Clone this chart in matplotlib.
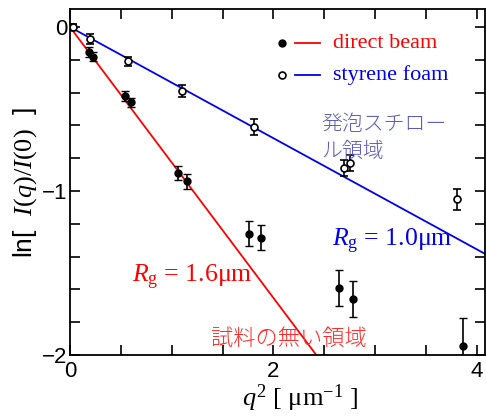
import numpy as np
import matplotlib.pyplot as plt
from matplotlib.ticker import MultipleLocator

plt.rcParams['mathtext.fontset'] = 'custom'
plt.rcParams['mathtext.rm'] = 'Liberation Serif'
plt.rcParams['mathtext.it'] = 'Liberation Serif:italic'

# direct beam (filled)
q2_direct = [0.02, 0.19, 0.23, 0.54, 0.60, 1.06, 1.15, 1.76, 1.88, 2.64, 2.78, 3.86]
ln_direct = [0.0, -0.15, -0.18, -0.42, -0.46, -0.89, -0.94, -1.26, -1.285, -1.59, -1.66, -1.945]
err_direct = [0.02, 0.03, 0.03, 0.03, 0.03, 0.045, 0.045, 0.077, 0.077, 0.11, 0.11, 0.17]

# styrene foam (open)
q2_foam = [0.03, 0.20, 0.57, 1.10, 1.81, 2.69, 2.75, 3.80]
ln_foam = [0.0, -0.075, -0.21, -0.39, -0.61, -0.86, -0.83, -1.05]
err_foam = [0.02, 0.03, 0.03, 0.035, 0.05, 0.05, 0.05, 0.065]

# fitted slopes (-Rg^2/3)
slope_direct = -0.826
slope_foam = -0.339

fig = plt.figure(figsize=(4.86, 4.18), dpi=100)
ax = fig.add_axes([0.144, 0.1507, 0.854, 0.8278])

xfit = np.array([0, 4.08])
ax.plot(xfit, slope_direct * xfit, color='#ff0000', lw=1.3, zorder=2)
ax.plot(xfit, slope_foam * xfit, color='#0000ee', lw=1.3, zorder=2)

ax.errorbar(q2_direct, ln_direct, yerr=err_direct, fmt='o', ms=5, color='black',
            ecolor='black', elinewidth=1.2, capsize=3, zorder=3)
ax.errorbar(q2_foam, ln_foam, yerr=err_foam, fmt='o', ms=5, mfc='white', mec='black',
            mew=1.2, ecolor='black', elinewidth=1.2, capsize=3, zorder=3)

ax.set_xlim(0, 4.08)
ax.set_ylim(-2, 0.11)
ax.xaxis.set_minor_locator(MultipleLocator(0.5))
ax.yaxis.set_minor_locator(MultipleLocator(0.2))
ax.set_xticks([0, 2, 4])
ax.set_xticklabels(['0', '2', '4'], family='Liberation Sans', fontsize=16)
ax.set_yticks([0, -1, -2])
ax.set_yticklabels(['0', '\u22121', '\u22122'], family='Liberation Sans', fontsize=16)
ax.tick_params(which='both', direction='in', top=True, right=True, width=1.2, length=7)
ax.tick_params(axis='y', pad=2)
ax.tick_params(axis='x', pad=4)
for s in ax.spines.values():
    s.set_linewidth(1.3)

ax.set_xlabel(r'$q^2$ [ $\mathrm{\mu m}^{-1}$ ]', fontsize=19, family='Liberation Serif')
ax.xaxis.set_label_coords(0.554, -0.08)
ax.set_ylabel(r'ln[  $I(q)/I(0)$  ]', fontsize=19, family='Liberation Sans', labelpad=2)

# legend
ax.plot([2.08], [-0.1], 'o', ms=5, color='black')
ax.plot([2.08], [-0.29], 'o', ms=5, mfc='white', mec='black', mew=1.2)
ax.plot([2.21, 2.46], [-0.1, -0.1], color='#ff0000', lw=1.3)
ax.plot([2.21, 2.46], [-0.29, -0.29], color='#0000ee', lw=1.3)
ax.text(2.59, -0.1, 'direct beam', color='#ff0000', fontsize=16, family='Liberation Serif', va='center')
ax.text(2.59, -0.29, 'styrene foam', color='#0000ee', fontsize=16, family='Liberation Serif', va='center')

ax.text(2.47, -0.675, '発泡スチロー\nル領域', color='#5a5ac0', fontsize=15, fontweight='light',
        family=['Noto Sans CJK JP', 'DejaVu Sans'], va='center', linespacing=1.3)
ax.text(2.58, -1.31, r'$R_\mathrm{g}$ = 1.0μm', color='#0000ee', fontsize=18.5,
        family='Liberation Serif', va='center')
ax.text(0.61, -1.53, r'$R_\mathrm{g}$ = 1.6μm', color='#ff0000', fontsize=18.5,
        family='Liberation Serif', va='center')
ax.text(1.39, -1.9, '試料の無い領域', color='#ff2a2a', fontsize=16, fontweight='light',
        family=['Noto Sans CJK JP', 'DejaVu Sans'], va='center')

fig.savefig('out.png', dpi=100)
